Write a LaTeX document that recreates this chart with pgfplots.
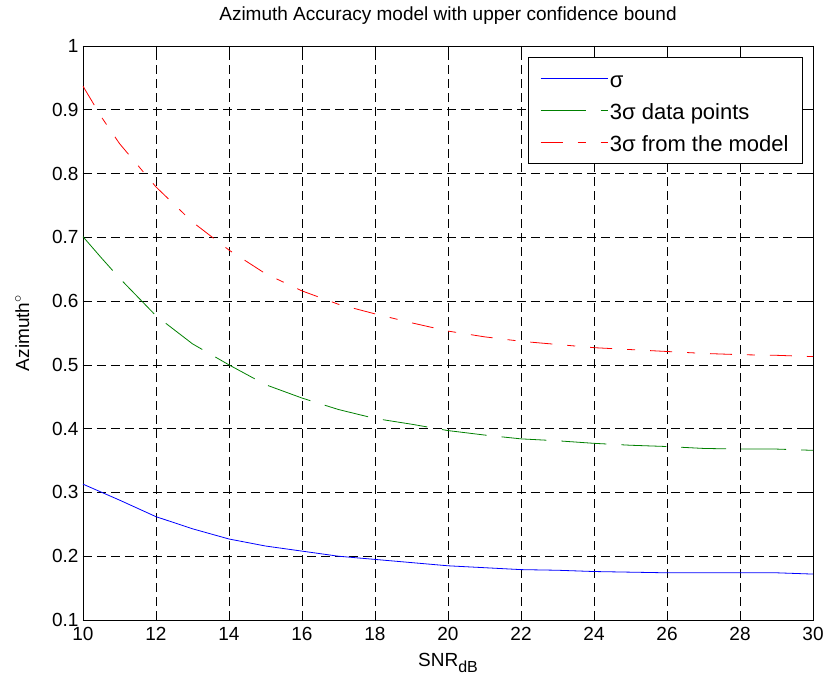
\documentclass[border=0pt]{standalone}
\usepackage{fontspec}
\setmainfont{Liberation Sans}
\usepackage{pgfplots}
\pgfplotsset{compat=1.18}
\definecolor{mblue}{rgb}{0,0,1}
\definecolor{mgreen}{rgb}{0,0.5,0}
\definecolor{mred}{rgb}{1,0,0}
\newcommand{\ff}{\fontsize{19bp}{23bp}\selectfont}
\newcommand{\lf}{\fontsize{22bp}{26bp}\selectfont}
\begin{document}
\begin{tikzpicture}
\begin{axis}[
  scale only axis,
  width=730bp, height=574bp,
  xmin=10, xmax=30, ymin=0.1, ymax=1,
  xtick={10,12,...,30},
  ytick={0.1,0.2,0.3,0.4,0.5,0.6,0.7,0.8,0.9,1},
  yticklabels={0.1,0.2,0.3,0.4,0.5,0.6,0.7,0.8,0.9,1},
  /pgf/number format/assume math mode=true,
  tick label style={font=\ff},
  xticklabel style={yshift=-4bp},
  yticklabel style={xshift=-1bp},
  label style={font=\ff},
  title style={font=\ff, yshift=12bp},
  title={Azimuth Accuracy model with upper confidence bound},
  xlabel={SNR\raisebox{-0.35em}{\fontsize{16bp}{18bp}\selectfont dB}},
  ylabel={Azimuth$^{\circ}$},
  xlabel style={yshift=-5bp},
  ylabel style={yshift=16bp},
  tick align=inside,
  major tick length=7bp,
  tick style={black, line width=0.6bp},
  axis line style={black, line width=0.6bp},
  grid=major,
  major grid style={black, line width=0.6bp, dash pattern=on 9bp off 5bp},
  legend style={font=\lf, at={(0.986,0.981)}, anchor=north east,
    inner xsep=12bp, inner ysep=6bp,
    nodes={text height=21bp, text depth=3bp, inner ysep=3bp},
    cells={anchor=west}, row sep=2bp},
  legend image code/.code={\draw[#1] (0bp,0bp) -- (67bp,0bp);},
  every axis plot/.append style={line width=0.8bp},
]
\addplot[color=mblue, solid] coordinates {
(10,0.313) (11,0.288) (12,0.262) (13,0.243) (14,0.227) (15,0.216) (16,0.208)
(17,0.200) (18,0.195) (19,0.190) (20,0.185) (21,0.182) (22,0.179) (23,0.178)
(24,0.176) (25,0.175) (26,0.174) (27,0.174) (28,0.174) (29,0.174) (30,0.172)};
\addlegendentry{σ}
\addplot[color=mgreen, dash pattern=on 45bp off 15bp] coordinates {
(10,0.701) (10.5,0.668) (11,0.636) (12,0.577) (13,0.533) (14,0.500) (15,0.469)
(16,0.448) (17,0.430) (18,0.416) (19,0.407) (20,0.397) (21,0.390) (22,0.384)
(23,0.381) (24,0.377) (25,0.374) (26,0.372) (27,0.369) (28,0.368) (29,0.368) (30,0.366)};
\addlegendentry{3σ data points}
\addplot[color=mred, dash pattern=on 22bp off 15bp on 8bp off 15bp] coordinates {
(10,0.937) (10.5,0.889) (11,0.847) (12,0.779) (13,0.724) (14,0.680) (15,0.643)
(16,0.616) (17,0.595) (18,0.580) (19,0.566) (20,0.553) (21,0.544) (22,0.537)
(23,0.532) (24,0.527) (25,0.524) (26,0.521) (27,0.518) (28,0.516) (29,0.515) (30,0.513)};
\addlegendentry{3σ from the model}
\coordinate (ll) at (rel axis cs:0,0);
\coordinate (ur) at (rel axis cs:1,1);
\end{axis}
\pgfresetboundingbox
\path ([shift={(-83bp,-69bp)}]ll) rectangle ([shift={(16bp,46bp)}]ur);
\end{tikzpicture}
\end{document}
